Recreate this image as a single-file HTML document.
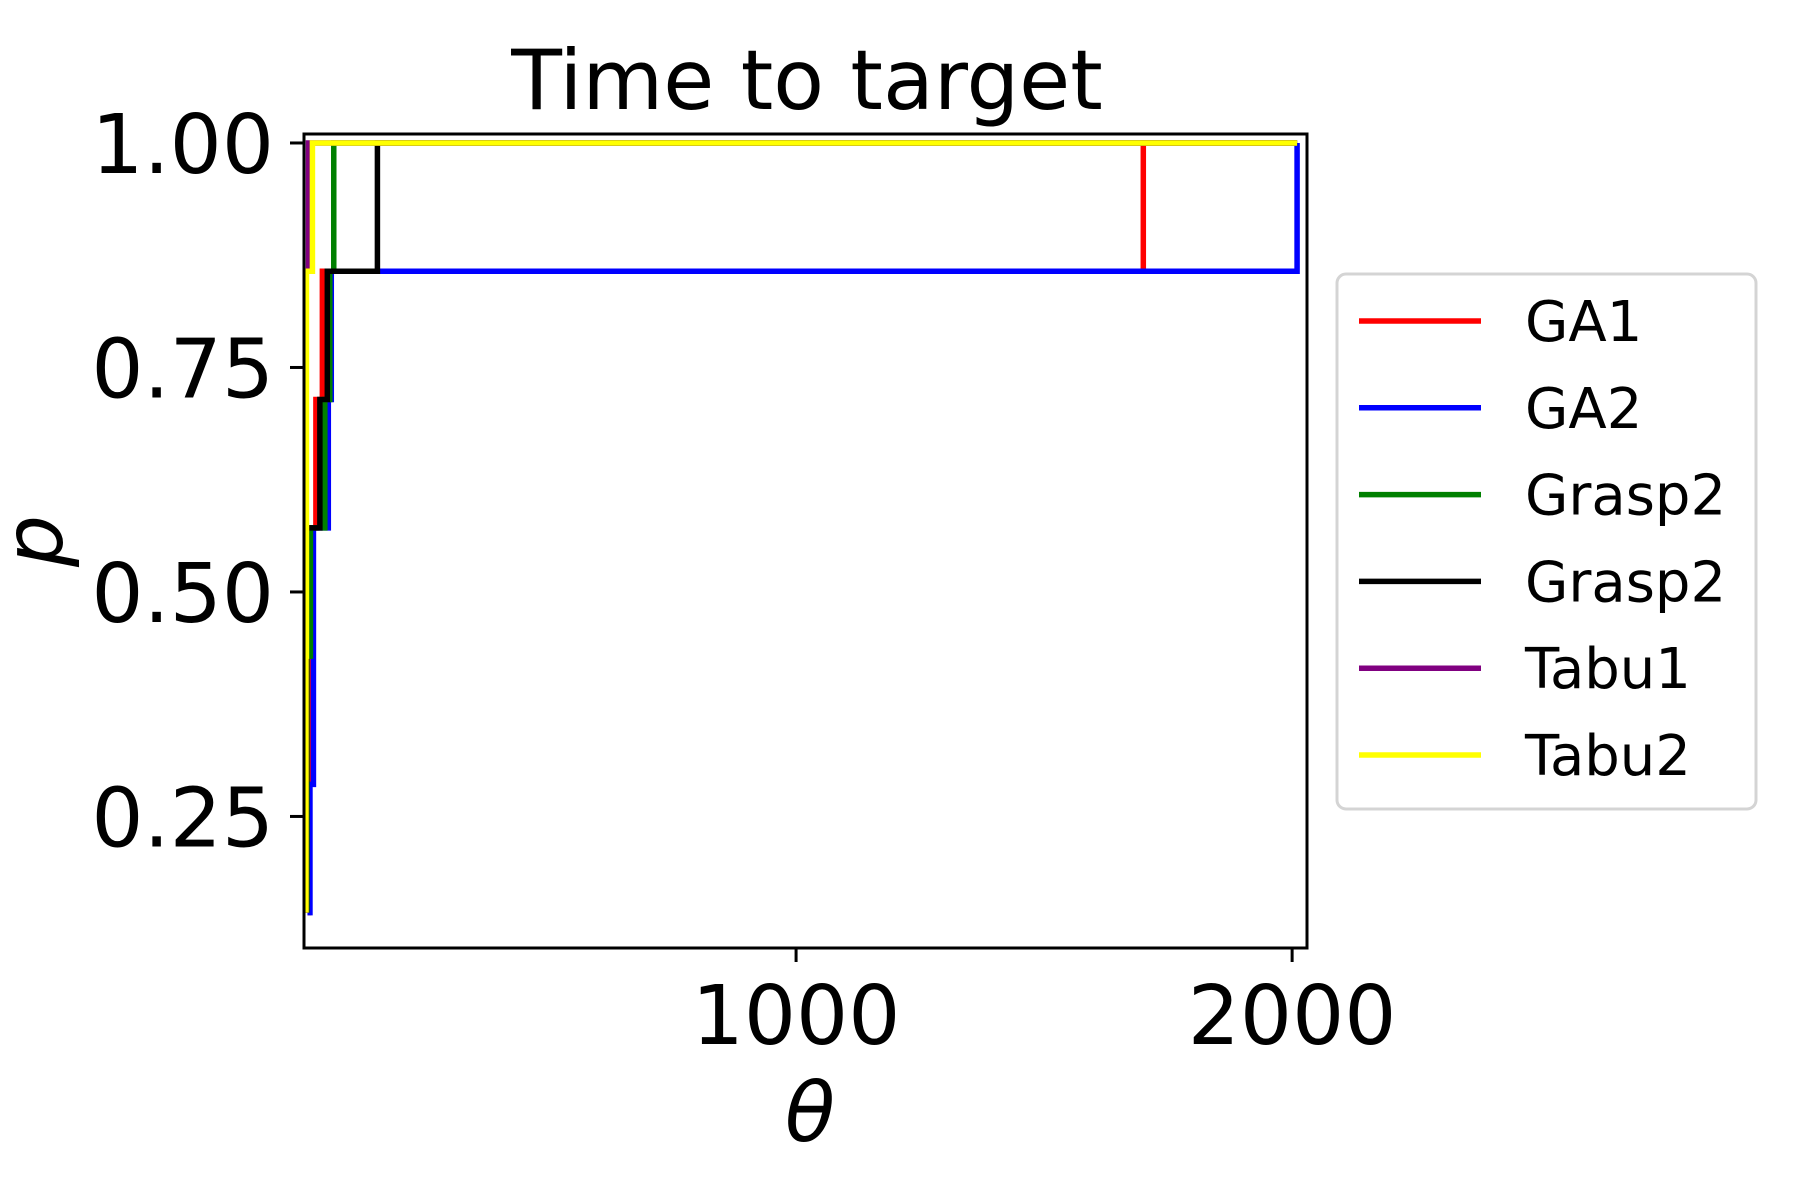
<!DOCTYPE html>
<html><head><meta charset="utf-8"><style>
html,body{margin:0;padding:0;background:#fff;}
svg{display:block;font-family:"DejaVu Sans","Liberation Sans",sans-serif;}
</style></head><body>
<svg id="chart" width="1800" height="1200" viewBox="0 0 1800 1200" xmlns="http://www.w3.org/2000/svg">
<rect x="0" y="0" width="1800" height="1200" fill="#fff"/>
<text x="807" y="109" font-size="83" text-anchor="middle">Time to target</text>
<g id="plot"></g>
<g id="axes"></g>
<text x="810" y="1141" font-size="82" font-style="italic" text-anchor="middle">θ</text>
<text transform="translate(62,541) rotate(-90)" font-size="82" font-style="italic" text-anchor="middle">p</text>
<g id="legend"></g>
</svg>
<script>
const seriesNames = ["GA1","GA2","Grasp2","Grasp2","Tabu1","Tabu2"];
const seriesColors = ["#ff0000","#0000ff","#008000","#000000","#800080","#ffff00"];
const ga1Times = [15,17,19,19,32,45,1700];
const ga2Times = [15,20,27,27,57,63,2010];
const grasp2aTimes = [14,14,14,21,50,60,68];
const grasp2bTimes = [13,13,13,13,40,55,156];
const tabu1Times = [12,12,12,12,12,12,17];
const tabu2Times = [12,12,12,13,13,13,25];
const probLevels = [1/7,2/7,3/7,4/7,5/7,6/7,1];
const endTime = 2010;
const xTicks = [1000,2000];
const xTickLabels = ["1000","2000"];
const yTicks = [0.25,0.5,0.75,1.0];
const yTickLabels = ["0.25","0.50","0.75","1.00"];
const allTimes = [ga1Times,ga2Times,grasp2aTimes,grasp2bTimes,tabu1Times,tabu2Times];

const L=304,R=1307,T=134,B=948;
const xMin=8,xMax=2030,yMin=0.1035,yMax=1.01;
const sx=v=>L+(v-xMin)/(xMax-xMin)*(R-L);
const sy=v=>B-(v-yMin)/(yMax-yMin)*(B-T);
const NS="http://www.w3.org/2000/svg";
function mk(tag,attrs,parent){const e=document.createElementNS(NS,tag);for(const k in attrs)e.setAttribute(k,attrs[k]);parent.appendChild(e);return e;}

const plot=document.getElementById('plot');
const cp=mk('clipPath',{id:'clip'},plot);
mk('rect',{x:L,y:T,width:R-L,height:B-T},cp);
const g=mk('g',{'clip-path':'url(#clip)'},plot);
allTimes.forEach((times,si)=>{
  let d="M"+sx(times[0])+","+sy(probLevels[0]);
  for(let i=1;i<times.length;i++){
    d+=" H"+sx(times[i])+" V"+sy(probLevels[i]);
  }
  d+=" H"+sx(endTime);
  const p=mk('path',{d:d,fill:'none',stroke:seriesColors[si],'stroke-width':5.5,'stroke-linejoin':'miter'},g);
  
  
});

const axes=document.getElementById('axes');
const frame=mk('rect',{x:L,y:T,width:R-L,height:B-T,fill:'none',stroke:'#000','stroke-width':3},axes);


xTicks.forEach((v,i)=>{
  const x=sx(v);
  const t=mk('line',{x1:x,y1:B,x2:x,y2:B+14,stroke:'#000','stroke-width':3},axes);
  
  
  const tx=mk('text',{x:x,y:1044,'font-size':82,'text-anchor':'middle'},axes);
  tx.textContent=xTickLabels[i];
  
  
});
yTicks.forEach((v,i)=>{
  const y=sy(v);
  const t=mk('line',{x1:L-14,y1:y,x2:L,y2:y,stroke:'#000','stroke-width':3},axes);
  
  
  const tx=mk('text',{x:274,y:y+30,'font-size':82,'text-anchor':'end'},axes);
  tx.textContent=yTickLabels[i];
  
  
});

const leg=document.getElementById('legend');
const box=mk('rect',{x:1337,y:274,width:419,height:535,rx:9,fill:'#fff',stroke:'#d4d4d4','stroke-width':3},leg);


seriesNames.forEach((n,i)=>{
  const y=321+i*86.8;
  const ln=mk('line',{x1:1359,y1:y,x2:1481,y2:y,stroke:seriesColors[i],'stroke-width':5.5},leg);
  
  
  const tx=mk('text',{x:1525,y:y+20,'font-size':56},leg);
  tx.textContent=n;
  
  
});
</script>
</body></html>
